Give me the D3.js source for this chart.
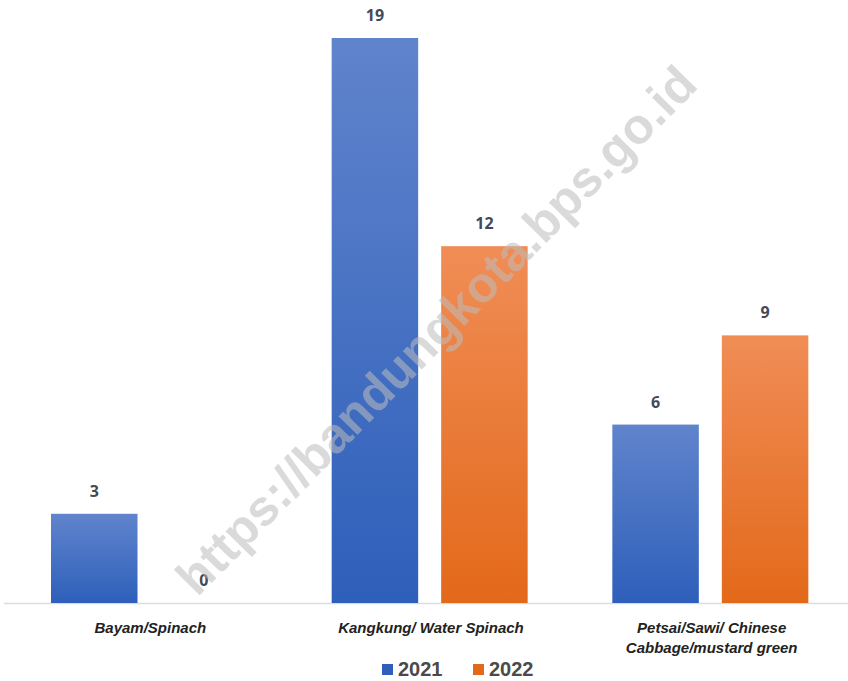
<!DOCTYPE html>
<meta charset="utf-8">
<style>
body { margin: 0; background: #fff; }
svg { display: block; font-family: "Liberation Sans Narrow", "Arial Narrow", "Liberation Sans", sans-serif; }
.val { font-family: "Open Sans", "DejaVu Sans", sans-serif; font-weight: bold; font-size: 16px; fill: #44495a; }
.cat { font-style: italic; font-weight: bold; font-size: 15px; fill: #222; }
.leg { font-size: 20px; font-weight: bold; fill: #4a4a4a; }
</style>
<body>
<script src="https://d3js.org/d3.v7.min.js"></script>
<script>

// data
var categories = ["Bayam/Spinach", "Kangkung/ Water Spinach", "Petsai/Sawi/ Chinese\nCabbage/mustard green"];
var years = ["2021", "2022"];
var values2021 = [3, 19, 6];
var values2022 = [0, 12, 9];

var width = 848, height = 681;
var baseY = 603;

var svg = d3.select("body").append("svg")
    .attr("width", width)
    .attr("height", height);

var defs = svg.append("defs");
var grads = {
  "2021": ["#6084cc", "#2e5fba"],
  "2022": ["#f08d56", "#e3691a"]
};
years.forEach(function(yr) {
  var g = defs.append("linearGradient")
      .attr("id", "g" + yr)
      .attr("x1", 0).attr("y1", 0).attr("x2", 0).attr("y2", 1);
  g.append("stop").attr("offset", "0%").attr("stop-color", grads[yr][0]);
  g.append("stop").attr("offset", "100%").attr("stop-color", grads[yr][1]);
});

// scales
var x0 = d3.scaleBand().domain(categories).range([10, 852]).padding(0);
var x1 = d3.scaleBand().domain(years).range([41, 237]).paddingInner(0.21);
var y = d3.scaleLinear().domain([0, 19]).range([baseY, 38]);

// baseline
svg.append("line")
    .attr("x1", 4).attr("x2", width)
    .attr("y1", baseY + 0.5).attr("y2", baseY + 0.5)
    .attr("stroke", "#d9dde3").attr("stroke-width", 1.5);

var rows = categories.map(function(c, i) {
  return { cat: c, vals: [
    { year: "2021", v: values2021[i] },
    { year: "2022", v: values2022[i] }
  ]};
});

var groups = svg.selectAll(".grp")
    .data(rows)
  .enter().append("g")
    .attr("class", "grp")
    .attr("transform", function(d) { return "translate(" + x0(d.cat) + ",0)"; });

groups.selectAll("rect")
    .data(function(d) { return d.vals; })
  .enter().append("rect")
    .attr("x", function(d) { return x1(d.year); })
    .attr("y", function(d) { return y(d.v); })
    .attr("width", x1.bandwidth())
    .attr("height", function(d) { return baseY - y(d.v); })
    .attr("fill", function(d) { return "url(#g" + d.year + ")"; });

groups.selectAll(".val")
    .data(function(d) { return d.vals; })
  .enter().append("text")
    .attr("class", "val")
    .attr("x", function(d) { return x1(d.year) + x1.bandwidth() / 2; })
    .attr("y", function(d) { return y(d.v) - 17; })
    .attr("text-anchor", "middle")
    .text(function(d) { return d.v; });

// category labels
groups.append("text")
    .attr("class", "cat")
    .attr("text-anchor", "middle")
    .attr("x", x0.bandwidth() / 2)
    .selectAll("tspan")
    .data(function(d) { return d.cat.split("\n"); })
  .enter().append("tspan")
    .attr("x", x0.bandwidth() / 2)
    .attr("y", function(d, i) { return 633 + i * 20; })
    .text(function(d) { return d; });

// legend
var legX = [382, 473];
var leg = svg.selectAll(".legi")
    .data(years)
  .enter().append("g")
    .attr("class", "legi")
    .attr("transform", function(d, i) { return "translate(" + legX[i] + ",664)"; });
leg.append("rect")
    .attr("width", 11).attr("height", 11)
    .attr("fill", function(d) { return grads[d][1]; });
leg.append("text")
    .attr("class", "leg")
    .attr("x", 16).attr("y", 12)
    .text(function(d) { return d; });

// watermark
svg.append("text")
    .attr("transform", "translate(436,330) rotate(-45.5)")
    .attr("text-anchor", "middle")
    .attr("dy", "0.35em")
    .style("font-family", "'Liberation Sans', Arial, sans-serif")
    .style("font-weight", "bold")
    .style("font-size", "50px")
    .style("fill", "#bdbdbd")
    .style("opacity", 0.55)
    .text("https://bandungkota.bps.go.id");

</script>
</body>
